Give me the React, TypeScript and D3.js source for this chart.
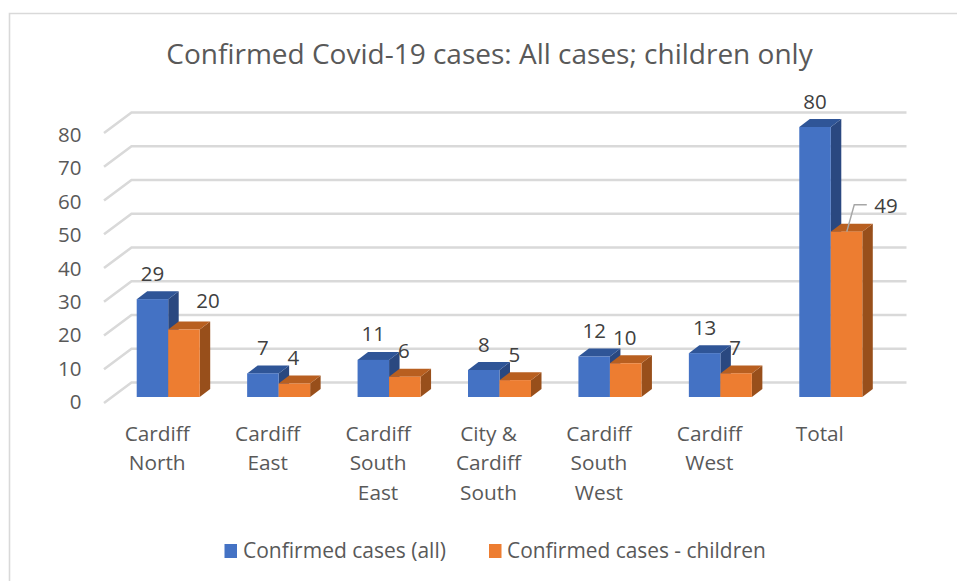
import React from "react";
import * as d3 from "d3";

const W = 957, H = 581;
const categories = [["Cardiff", "North"], ["Cardiff", "East"], ["Cardiff", "South", "East"], ["City &", "Cardiff", "South"], ["Cardiff", "South", "West"], ["Cardiff", "West"], ["Total"]];
const allCases = [29, 7, 11, 8, 12, 13, 80];
const childCases = [20, 4, 6, 5, 10, 7, 49];
const yTicks = [0, 10, 20, 30, 40, 50, 60, 70, 80];
const seriesNames = ["Confirmed cases (all)", "Confirmed cases - children"];
const title = "Confirmed Covid-19 cases: All cases; children only";

const FONT = "'Open Sans', sans-serif";
const TEXT = "#595959";
const LABEL = "#404040";
const DX = 10.5, DY = -8;

const colors = [
  { front: "#4472C4", top: "#2F5597", side: "#2A4880" },
  { front: "#ED7D31", top: "#B85F20", side: "#984F1B" },
];

const y = d3.scaleLinear().domain([0, 80]).range([397, 127]);
const yLabel = d3.scaleLinear().domain([0, 80]).range([409, 142]);
const x0 = d3.scaleBand<number>().domain(d3.range(categories.length)).range([113, 886]);
const barW = 31.5;
const barX = (i: number, s: number) => (x0(i) as number) + x0.bandwidth() / 2 - barW + s * barW;

function Bar({ i, s, v }: { i: number; s: number; v: number }) {
  const x = barX(i, s), t = y(v), b = y(0), c = colors[s];
  const pts = (p: [number, number][]) => p.map((q) => q.join(",")).join(" ");
  return (
    <g>
      <polygon fill={c.side} points={pts([[x + barW, t], [x + barW + DX, t + DY], [x + barW + DX, b + DY], [x + barW, b]])} />
      <polygon fill={c.top} points={pts([[x, t], [x + DX, t + DY], [x + barW + DX, t + DY], [x + barW, t]])} />
      <rect x={x} y={t} width={barW} height={b - t} fill={c.front} />
    </g>
  );
}

export default function App() {
  const gridLeft = 131.5, gridRight = 906.5;
  const lead = barX(6, 1);
  return (
    <svg width={W} height={H} viewBox={`0 0 ${W} ${H}`} style={{ position: "absolute", left: 0, top: 0, background: "#fff" }} fontFamily={FONT}>
      <path d={`M${W},13.5 H9.5 V${H}`} fill="none" stroke="#D9D9D9" strokeWidth={1.6} />
      <text x={489.5} y={63.5} textAnchor="middle" fontSize={28} fill={TEXT}>{title}</text>

      {yTicks.map((t) => (
        <g key={t}>
          <polyline points={`${gridLeft - 27.5},${y(t) + 6} ${gridLeft},${y(t) - 14.5} ${gridRight},${y(t) - 14.5}`} fill="none" stroke="#D9D9D9" strokeWidth={2.6} />
          <text x={81.5} y={yLabel(t)} textAnchor="end" fontSize={20.5} fill={TEXT}>{t}</text>
        </g>
      ))}

      {categories.map((_, i) => (
        <g key={i}>
          <Bar i={i} s={0} v={allCases[i]} />
          <Bar i={i} s={1} v={childCases[i]} />
        </g>
      ))}

      {categories.map((_, i) => (
        <g key={i} fontSize={20.5} fill={LABEL} textAnchor="middle">
          <text x={barX(i, 0) + barW / 2} y={y(allCases[i]) - 18.5}>{allCases[i]}</text>
          {i === 6 ? null : <text x={barX(i, 1) + barW / 2 + (i === 0 ? 24 : -1)} y={y(childCases[i]) - (i === 0 ? 21.5 : 18.5)}>{childCases[i]}</text>}
        </g>
      ))}
      <polyline points={`${lead + 16},${y(49)} ${lead + 23.5},${y(49) - 27} ${lead + 36},${y(49) - 27}`} fill="none" stroke="#A6A6A6" strokeWidth={1.5} />
      <text x={886} y={213} textAnchor="middle" fontSize={20.5} fill={LABEL}>{childCases[6]}</text>

      {categories.map((lines, i) => (
        <text key={i} textAnchor="middle" fontSize={20.8} fill={TEXT}>
          {lines.map((l, k) => (
            <tspan key={k} x={(x0(i) as number) + x0.bandwidth() / 2 - 11} y={440.5 + k * 29.5}>{l}</tspan>
          ))}
        </text>
      ))}

      <rect x={224.5} y={544} width={12.5} height={14} fill={colors[0].front} />
      <text x={243} y={558} fontSize={21} fill={TEXT}>{seriesNames[0]}</text>
      <rect x={489} y={544} width={12.5} height={14} fill={colors[1].front} />
      <text x={507} y={558} fontSize={20.9} fill={TEXT}>{seriesNames[1]}</text>
    </svg>
  );
}
